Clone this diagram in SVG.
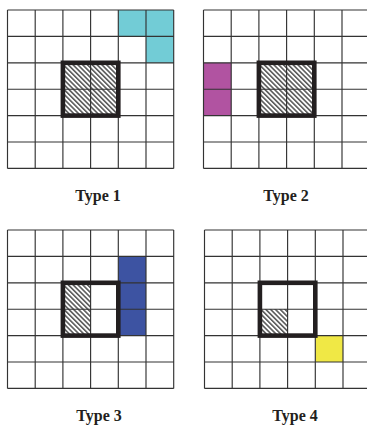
<svg xmlns="http://www.w3.org/2000/svg" width="367" height="428" viewBox="0 0 367 428">
<style>
.grid{fill:none;stroke:#333;stroke-width:1.15}
.frame{fill:none;stroke:#231f20;stroke-width:4.6}
.lbl{font-family:"Liberation Serif","Times New Roman",serif;font-weight:bold;font-size:16px;fill:#231f20;text-anchor:middle}
.hatch{fill:url(#hatch)}
</style>
<defs>
<pattern id="hatch" patternUnits="userSpaceOnUse" width="3.4" height="3.4" patternTransform="rotate(-45)">
<rect width="3.4" height="3.4" fill="#fff"/>
<line x1="0.8" y1="0" x2="0.8" y2="3.4" stroke="#333" stroke-width="1.3"/>
</pattern>
<path id="gridlines" class="grid" d="M0,0H166.2M0,26.4H166.2M0,52.8H166.2M0,79.2H166.2M0,105.6H166.2M0,132H166.2M0,158.4H166.2M0,0V158.4M27.7,0V158.4M55.4,0V158.4M83.1,0V158.4M110.8,0V158.4M138.5,0V158.4M166.2,0V158.4"/>
</defs>
<rect width="367" height="428" fill="#fff"/>

<g id="type1" transform="translate(7.5,10)">
<rect x="110.8" y="0" width="55.4" height="26.4" fill="#72ccd6"/>
<rect x="138.5" y="26.4" width="27.7" height="26.4" fill="#72ccd6"/>
<rect class="hatch" x="55.4" y="52.8" width="55.4" height="52.8"/>
<use href="#gridlines"/>
<rect class="frame" x="55.4" y="52.8" width="55.4" height="52.8"/>
</g>
<text class="lbl" x="98" y="200.5">Type 1</text>

<g id="type2" transform="translate(203.5,10)">
<rect x="0" y="52.8" width="27.7" height="52.8" fill="#b153a1"/>
<rect class="hatch" x="55.4" y="52.8" width="55.4" height="52.8"/>
<use href="#gridlines"/>
<rect class="frame" x="55.4" y="52.8" width="55.4" height="52.8"/>
</g>
<text class="lbl" x="286" y="200.5">Type 2</text>

<g id="type3" transform="translate(7.5,230)">
<rect x="110.8" y="26.4" width="27.7" height="79.2" fill="#3d53a2"/>
<rect class="hatch" x="55.4" y="52.8" width="27.7" height="52.8"/>
<use href="#gridlines"/>
<rect class="frame" x="55.4" y="52.8" width="55.4" height="52.8"/>
</g>
<text class="lbl" x="99" y="420.5">Type 3</text>

<g id="type4" transform="translate(204.5,230)">
<rect x="110.8" y="105.6" width="27.7" height="26.4" fill="#f0e845"/>
<rect class="hatch" x="55.4" y="79.2" width="27.7" height="26.4"/>
<use href="#gridlines"/>
<rect class="frame" x="55.4" y="52.8" width="55.4" height="52.8"/>
</g>
<text class="lbl" x="295" y="420.5">Type 4</text>
</svg>
